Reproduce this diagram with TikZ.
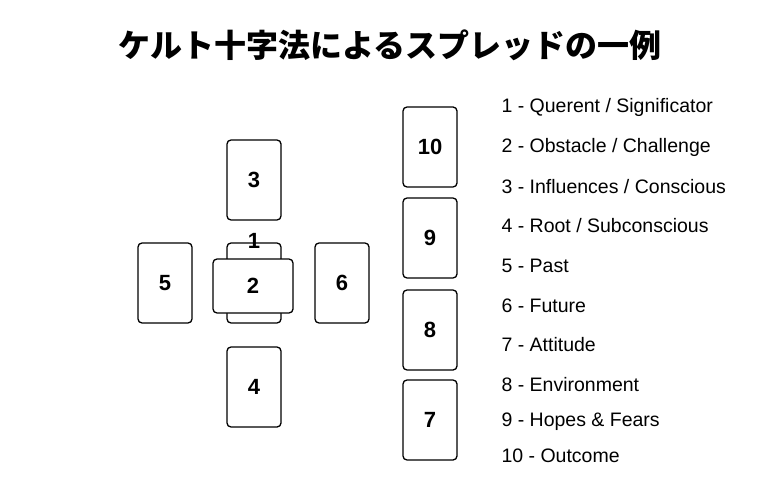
\documentclass[tikz,border=0pt]{standalone}
\usepackage{fontspec}
\setmainfont{Liberation Sans}
\newfontfamily\cjk{Noto Sans CJK JP}
\begin{document}
\begin{tikzpicture}[x=1pt,y=-1pt]
% Styles
\tikzset{card/.style={draw,line width=1.3pt,rounded corners=4pt,fill=white,minimum width=54pt,minimum height=80pt,font=\fontsize{22}{22}\selectfont\bfseries},
  wide card/.style={card,minimum width=80pt,minimum height=54pt},
  meaning/.style={anchor=west,font=\fontsize{19.5}{19.5}\selectfont}}
\useasboundingbox (0,0) rectangle (771,481);
\node[font=\cjk\bfseries\fontsize{32}{32}\selectfont] (title) at (390,45) {ケルト十字法によるスプレッドの一例};
% the cross
\node[card] (c1) at (254,283) {};
\node[font=\fontsize{22}{22}\selectfont\bfseries] (n1) at (254,241) {1};
\node[wide card] (c2) at (253,286) {2};
\node[card] (c3) at (254,180) {3};
\node[card] (c4) at (254,387) {4};
\node[card] (c5) at (165,283) {5};
\node[card] (c6) at (342,283) {6};
% the staff
\foreach \n/\y in {10/147,9/238,8/330,7/420}
  \node[card] (c\n) at (430,\y) {\n};
% the meanings
\foreach \y/\t [count=\i] in {107/{1 - Querent / Significator},147/{2 - Obstacle / Challenge},
  187/{3 - Influences / Conscious},226/{4 - Root / Subconscious},266/{5 - Past},306/{6 - Future},
  345/{7 - Attitude},385/{8 - Environment},422/{9 - Hopes \& Fears},456/{10 - Outcome}}
  \node[meaning] (m\i) at (498,\y) {\t};
\end{tikzpicture}
\end{document}
